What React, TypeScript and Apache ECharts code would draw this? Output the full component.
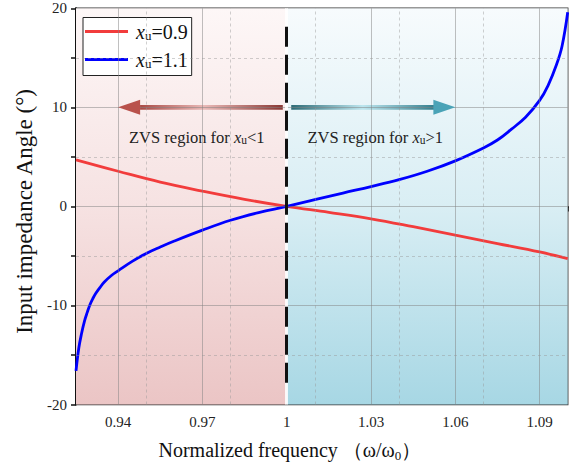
import React, { useEffect, useRef } from "react";
import * as echarts from "echarts";

// ---- data ----
const freqRed = [0.925, 0.94, 0.955, 0.97, 0.985, 1.0, 1.015, 1.03, 1.045, 1.06, 1.075, 1.09, 1.1];
const angleRed = [4.7, 3.55, 2.45, 1.55, 0.72, 0, -0.6, -1.25, -2.05, -2.9, -3.75, -4.6, -5.28];

const freqBlue = [0.925, 0.926, 0.927, 0.928, 0.929, 0.93, 0.931, 0.932, 0.9335, 0.935, 0.9375, 0.94, 0.945, 0.95, 0.955, 0.96, 0.97, 0.98, 0.99, 1.0, 1.01, 1.02, 1.03, 1.04, 1.05, 1.06, 1.07, 1.075, 1.08, 1.085, 1.09, 1.093, 1.096, 1.098, 1.1];
const angleBlue = [-16.6, -14.3, -12.8, -11.6, -10.7, -9.9, -9.3, -8.8, -8.2, -7.65, -7.0, -6.5, -5.55, -4.75, -4.1, -3.5, -2.4, -1.4, -0.62, 0, 0.68, 1.35, 2.0, 2.7, 3.55, 4.6, 5.9, 6.7, 7.8, 9.0, 10.7, 12.2, 14.3, 16.2, 19.6];

const seriesNames = ["x_u=0.9", "x_u=1.1"];
const xTickLabels = ["0.94", "0.97", "1", "1.03", "1.06", "1.09"];
const xMajorGrid = [0.94, 0.97, 1.03, 1.06, 1.09];
const xMinorGrid = [0.955, 0.985, 1.015, 1.045, 1.075];
const yMajorGrid = [10, 0, -10];
const yMinorGrid = [15, 5, -5, -15];
const regionSplit = 1.0;
const dashedLineY = [-17.8, 18.8];
// arrows: shaft start/end x, head centre x, y level
const leftArrow = { shaft: [0.9478, 0.9986], head: 0.9439, y: 10 };
const rightArrow = { shaft: [1.0016, 1.0525], head: 1.0561, y: 10 };
const regionTexts = [
  { x: 0.968, y: 7.0, rel: "<1" },
  { x: 1.0315, y: 7.0, rel: ">1" },
];

const SERIF = "Liberation Serif";

export default function App() {
  const ref = useRef<HTMLDivElement>(null);
  useEffect(() => {
    if (!ref.current) return;
    const chart = echarts.init(ref.current, undefined, { renderer: "svg" });

    const lg = (x2: number, y2: number, stops: [number, string][]) => ({
      type: "linear",
      x: 0,
      y: 0,
      x2,
      y2,
      colorStops: stops.map(([offset, color]) => ({ offset, color })),
    });

    const gridLines: any[] = [];
    xMajorGrid.forEach((v) => gridLines.push({ xAxis: v, lineStyle: { color: "rgba(130,130,130,0.5)", width: 1, type: "solid" } }));
    xMinorGrid.forEach((v) => gridLines.push({ xAxis: v, lineStyle: { color: "rgba(150,150,150,0.45)", width: 1, type: [3, 3] } }));
    yMajorGrid.forEach((v) => gridLines.push({ yAxis: v, lineStyle: { color: "rgba(130,130,130,0.5)", width: 1, type: "solid" } }));
    yMinorGrid.forEach((v) => gridLines.push({ yAxis: v, lineStyle: { color: "rgba(150,150,150,0.45)", width: 1, type: [3, 3] } }));
    gridLines.push({ xAxis: regionSplit, lineStyle: { color: "rgba(255,255,255,0.85)", width: 3, type: "solid" } });

    const textRich = {
      a: { fontFamily: SERIF, fontSize: 16.5, color: "#222" },
      x: { fontFamily: SERIF, fontSize: 16.5, fontStyle: "italic", color: "#222" },
      u: { fontFamily: SERIF, fontSize: 11.5, color: "#222", padding: [5, 0, 0, 0] },
    };

    const option: any = {
      animation: false,
      backgroundColor: "#ffffff",
      textStyle: { fontFamily: SERIF },
      grid: {
        left: 76,
        right: 13.3,
        top: 8.3,
        bottom: 64.5,
        show: true,
        borderColor: "#333",
        borderWidth: 1.5,
        backgroundColor: "transparent",
      },
      legend: {
        data: seriesNames,
        orient: "vertical",
        left: 83,
        top: 17.5,
        padding: [4, 4, 6, 2],
        itemGap: 8,
        itemWidth: 43,
        itemHeight: 3,
        icon: "rect",
        backgroundColor: "#ffffff",
        borderColor: "#222",
        borderWidth: 1,
        formatter: (name: string) => {
          const t = name.split("=")[1];
          return `{x|x}{u|u}{t|=${t}}`;
        },
        textStyle: {
          fontFamily: SERIF,
          padding: [0, 0, 0, 3],
          rich: {
            x: { fontFamily: SERIF, fontSize: 20, fontStyle: "italic", color: "#111" },
            u: { fontFamily: SERIF, fontSize: 13, color: "#111", padding: [7, 0, 0, 0] },
            t: { fontFamily: SERIF, fontSize: 20, color: "#111" },
          },
        },
      },
      xAxis: {
        type: "value",
        min: 0.925,
        max: 1.1,
        interval: 0.015,
        name: "{n|Normalized frequency \uFF08ω/ω}{s|0}{n|\uFF09}",
        nameLocation: "middle",
        nameGap: 34,
        nameTextStyle: {
          fontFamily: SERIF,
          fontSize: 20,
          color: "#111",
          padding: [0, 64, 0, 0],
          rich: {
            n: { fontFamily: SERIF, fontSize: 20, color: "#111" },
            s: { fontFamily: SERIF, fontSize: 13, color: "#111", padding: [10, 0, 0, 0] },
          },
        },
        axisLine: { show: true, lineStyle: { color: "#111", width: 2 } },
        axisTick: { show: true, inside: false, length: 5, lineStyle: { color: "#111", width: 1.5 } },
        splitLine: { show: false },
        axisLabel: {
          margin: 10,
          fontFamily: SERIF,
          fontSize: 15,
          color: "#222",
          formatter: (v: number) => {
            const r = (v - 1) / 0.03;
            if (Math.abs(r - Math.round(r)) > 1e-6) return "";
            const idx = Math.round(r) + 2;
            return xTickLabels[idx] ?? "";
          },
        },
      },
      yAxis: {
        type: "value",
        min: -20,
        max: 20,
        interval: 5,
        name: "Input impedance Angle (°)",
        nameLocation: "middle",
        nameGap: 36,
        nameTextStyle: { fontFamily: SERIF, fontSize: 23, color: "#111", padding: [0, 10, 0, 0] },
        axisLine: { show: true, lineStyle: { color: "#111", width: 2 } },
        axisTick: { show: true, inside: false, length: 5, lineStyle: { color: "#111", width: 1.5 } },
        splitLine: { show: false },
        axisLabel: {
          margin: 9,
          fontFamily: SERIF,
          fontSize: 15,
          color: "#222",
          formatter: (v: number) => (Math.round(v) % 10 === 0 ? String(v) : ""),
        },
      },
      series: [
        {
          name: "bg",
          type: "line",
          z: 1,
          data: [[1, 0]],
          symbol: "none",
          lineStyle: { opacity: 0 },
          silent: true,
          markArea: {
            silent: true,
            data: [
              [
                { xAxis: 0.925, itemStyle: { color: lg(0, 1, [[0, "#fdf7f7"], [0.5, "#f6e2e2"], [1, "#ebc5c5"]]) } },
                { xAxis: regionSplit },
              ],
              [
                { xAxis: regionSplit, itemStyle: { color: lg(0, 1, [[0, "#f7fbfd"], [0.5, "#d9eef4"], [1, "#a7d7e4"]]) } },
                { xAxis: 1.1 },
              ],
            ],
          },
        },
        {
          name: "gridlines",
          type: "line",
          z: 2,
          data: [[1, 0]],
          symbol: "none",
          lineStyle: { opacity: 0 },
          silent: true,
          markLine: {
            silent: true,
            symbol: "none",
            label: { show: false },
            data: gridLines,
          },
        },
        {
          name: seriesNames[0],
          type: "line",
          z: 3,
          data: freqRed.map((f, i) => [f, angleRed[i]]),
          smooth: 0.4,
          symbol: "none",
          color: "#f23c3c",
          lineStyle: { width: 2.8, color: "#f23c3c" },
        },
        {
          name: seriesNames[1],
          type: "line",
          z: 3,
          data: freqBlue.map((f, i) => [f, angleBlue[i]]),
          smooth: 0.4,
          symbol: "none",
          color: "#0000ff",
          lineStyle: { width: 2.8, color: "#0000ff" },
        },
        {
          name: "annot",
          type: "line",
          z: 4,
          data: [[1, 0]],
          symbol: "none",
          lineStyle: { opacity: 0 },
          silent: true,
          markLine: {
            silent: true,
            symbol: "none",
            label: { show: false },
            data: [
              [
                { coord: [regionSplit, dashedLineY[0]], lineStyle: { color: "#111", width: 3, type: [20, 8] } },
                { coord: [regionSplit, dashedLineY[1]] },
              ],
            ],
          },
          markArea: {
            silent: true,
            data: [
              [
                {
                  coord: [leftArrow.shaft[0], leftArrow.y - 0.23],
                  itemStyle: { color: lg(1, 0, [[0, "#a94a45"], [0.45, "#e9b9b7"], [1, "#8a3834"]]) },
                },
                { coord: [leftArrow.shaft[1], leftArrow.y + 0.23] },
              ],
              [
                {
                  coord: [rightArrow.shaft[0], rightArrow.y - 0.23],
                  itemStyle: { color: lg(1, 0, [[0, "#2d6b76"], [0.5, "#bde6ef"], [1, "#357f8e"]]) },
                },
                { coord: [rightArrow.shaft[1], rightArrow.y + 0.23] },
              ],
            ],
          },
          markPoint: {
            silent: true,
            data: [
              {
                coord: [leftArrow.head, leftArrow.y],
                symbol: "triangle",
                symbolSize: [15, 22],
                symbolRotate: 90,
                itemStyle: { color: "#b9524c" },
                label: { show: false },
              },
              {
                coord: [rightArrow.head, rightArrow.y],
                symbol: "triangle",
                symbolSize: [15, 22],
                symbolRotate: -90,
                itemStyle: { color: "#4aa3b7" },
                label: { show: false },
              },
              ...regionTexts.map((t) => ({
                coord: [t.x, t.y],
                symbol: "circle",
                symbolSize: 0,
                itemStyle: { color: "transparent" },
                label: {
                  show: true,
                  position: "inside",
                  fontFamily: SERIF,
                  formatter: `{a|ZVS region for }{x|x}{u|u}{a|${t.rel}}`,
                  rich: textRich,
                },
              })),
            ],
          },
        },
      ],
    };

    chart.setOption(option);
    return () => chart.dispose();
  }, []);

  return (
    <div
      ref={ref}
      style={{ position: "fixed", left: 0, top: 0, width: 581, height: 469, background: "#fff" }}
    />
  );
}
